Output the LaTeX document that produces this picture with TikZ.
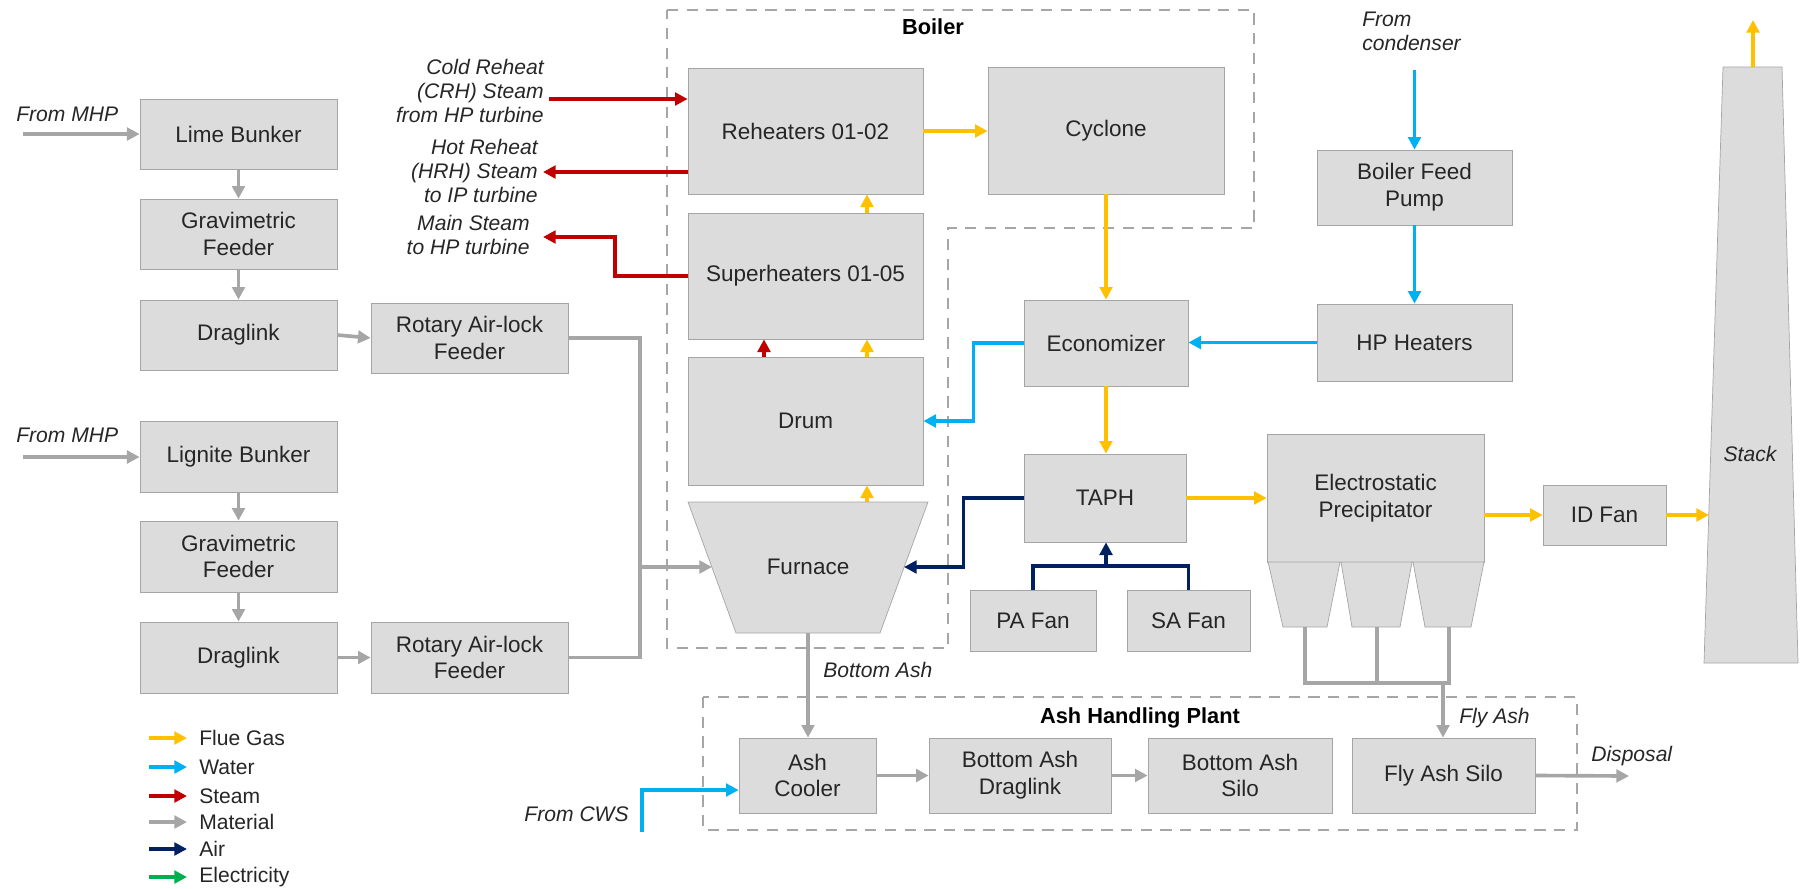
\documentclass[tikz,border=0pt]{standalone}
\usepackage{fontspec}
\setmainfont{Liberation Sans}
\usetikzlibrary{arrows.meta,calc}
\definecolor{boxfill}{RGB}{220,220,220}
\definecolor{boxline}{RGB}{165,165,165}
\definecolor{txt}{RGB}{38,38,38}
\definecolor{fluec}{RGB}{255,192,0}
\definecolor{waterc}{RGB}{0,176,240}
\definecolor{steamc}{RGB}{192,0,0}
\definecolor{matc}{RGB}{166,166,166}
\definecolor{airc}{RGB}{0,32,96}
\definecolor{elecc}{RGB}{0,176,80}
\definecolor{dashc}{RGB}{166,166,166}
\newcommand\bx[6]{\node[box, minimum width={(#4-#2)*0.25mm}, minimum height={(#5-#3)*0.25mm}] (#1) at ({(#2+#4)/2},{(#3+#5)/2}) {#6};}
\begin{document}
\begin{tikzpicture}[x=0.25mm,y=-0.25mm,
 box/.style={draw=boxline, line width=0.5pt, fill=boxfill, text=txt, align=center, inner sep=0pt, font=\fontsize{16}{19}\selectfont},
 shp/.style={draw=boxline, line width=0.5pt, fill=boxfill},
 lbl/.style={text=txt, font=\fontsize{15}{17}\selectfont\itshape, inner sep=0pt},
 lgd/.style={text=txt, font=\fontsize{15}{17}\selectfont, inner sep=0pt, anchor=west},
 ttl/.style={text=black, font=\fontsize{15.5}{18}\selectfont\bfseries, inner sep=0pt},
 flow/.style={line width=2.6pt, -{Triangle[length=9pt,width=9pt]}},
 plain/.style={line width=2.6pt},
 fg/.style={flow, draw=fluec}, wt/.style={flow, draw=waterc}, st/.style={flow, draw=steamc},
 mt/.style={flow, draw=matc}, ar/.style={flow, draw=airc}, el/.style={flow, draw=elecc},
 bound/.style={draw=dashc, line width=1.5pt, dash pattern=on 8pt off 6pt}
]
\useasboundingbox (0,0) rectangle (1800,888);

% boundaries
\draw[bound] (667,10) -- (1254,10) -- (1254,228) -- (948,228) -- (948,648) -- (667,648) -- cycle;
\draw[bound] (703,697) rectangle (1577,830);
\node[ttl] (tboiler) at (933,27) {Boiler};
\node[ttl] (tahp) at (1140,718) {Ash Handling Plant};

% boxes
\bx{lime}{140}{99}{337}{169}{Lime Bunker}
\bx{grav1}{140}{199}{337}{269}{Gravimetric\\Feeder}
\bx{drag1}{140}{300}{337}{370}{Draglink}
\bx{rot1}{371}{303}{568}{373}{Rotary Air-lock\\Feeder}
\bx{lig}{140}{421}{337}{492}{Lignite Bunker}
\bx{grav2}{140}{521}{337}{592}{Gravimetric\\Feeder}
\bx{drag2}{140}{622}{337}{693}{Draglink}
\bx{rot2}{371}{622}{568}{693}{Rotary Air-lock\\Feeder}
\bx{reh}{688}{68}{923}{194}{Reheaters 01-02}
\bx{cyc}{988}{67}{1224}{194}{Cyclone}
\bx{sup}{688}{213}{923}{339}{Superheaters 01-05}
\bx{drum}{688}{357}{923}{485}{Drum}
\bx{econ}{1024}{300}{1188}{386}{Economizer}
\bx{taph}{1024}{454}{1186}{542}{TAPH}
\bx{pa}{970}{590}{1096}{651}{PA Fan}
\bx{sa}{1127}{590}{1250}{651}{SA Fan}
\bx{bfp}{1317}{150}{1512}{225}{Boiler Feed\\Pump}
\bx{hph}{1317}{304}{1512}{381}{HP Heaters}
\bx{esp}{1267}{434}{1484}{562}{Electrostatic\\Precipitator}
\bx{idf}{1543}{485}{1666}{545}{ID Fan}
\bx{ashc}{739}{738}{876}{813}{Ash\\Cooler}
\bx{badr}{929}{738}{1111}{813}{Bottom Ash\\Draglink}
\bx{bas}{1148}{738}{1332}{813}{Bottom Ash\\Silo}
\bx{fas}{1352}{738}{1535}{813}{Fly Ash Silo}

% furnace
\draw[shp] (688,502) -- (928,502) -- (880,633) -- (736,633) -- cycle;
\node[box, draw=none, fill=none] (furnace) at (808,567) {Furnace};
\coordinate (furW) at (712,567);
\coordinate (furE) at (904,567);
\coordinate (furN) at (867,502);
\coordinate (furS) at (808,633);

% hoppers
\draw[shp] (1268,562) -- (1340,562) -- (1327,627) -- (1283,627) -- cycle;
\draw[shp] (1341,562) -- (1412,562) -- (1400,627) -- (1352,627) -- cycle;
\draw[shp] (1413,562) -- (1484,562) -- (1471,627) -- (1425,627) -- cycle;
\coordinate (h1) at (1305,627);
\coordinate (h2) at (1377,627);
\coordinate (h3) at (1449,627);
\coordinate (hj) at (1443,683);

% stack
\draw[shp] (1723,67) -- (1782,67) -- (1798,663) -- (1704,663) -- cycle;
\node[lbl] (tstack) at (1750,454) {Stack};
\coordinate (stackW) at (1709,515);
\coordinate (stackT) at (1753,67);
\coordinate (sky) at (1753,20);

% material
\coordinate (mhp1) at (23,134);
\coordinate (mhp2) at (23,457);
\draw[mt] (mhp1) -- (mhp1 -| lime.west);
\draw[mt] (mhp2) -- (mhp2 -| lig.west);
\draw[mt] (lime.south) -- (grav1.north);
\draw[mt] (grav1.south) -- (drag1.north);
\draw[mt] (drag1.east) -- (rot1.west);
\draw[mt] (lig.south) -- (grav2.north);
\draw[mt] (grav2.south) -- (drag2.north);
\draw[mt] (drag2.east) -- (rot2.west);
\coordinate (fj) at (640,567);
\draw[plain, draw=matc] (rot1.east) -| (fj);
\draw[plain, draw=matc] (rot2.east) -| (fj);
\draw[mt] (fj) -- (furW);
\draw[mt] (furS) -- (furS |- ashc.north);
\draw[mt] (ashc.east) -- (badr.west);
\draw[mt] (badr.east) -- (bas.west);
\coordinate (disp) at (1629,776);
\draw[mt] (fas.east) -- (disp);
\draw[line width=2.2pt, draw=matc] (h1) |- (hj -| h3) -- (h3);
\draw[line width=2.2pt, draw=matc] (h2) -- (h2 |- hj);
\draw[mt] (hj) -- (hj |- fas.north);

% flue gas
\coordinate (fx) at (867,0);
\draw[fg] (reh.east) -- (reh.east -| cyc.west);
\draw[fg] (sup.north -| fx) -- (reh.south -| fx);
\draw[fg] (drum.north -| fx) -- (sup.south -| fx);
\draw[fg] (furN) -- (drum.south -| fx);
\draw[fg] (cyc.south) -- (cyc.south |- econ.north);
\draw[fg] (econ.south) -- (econ.south |- taph.north);
\draw[fg] (taph.east) -- (taph.east -| esp.west);
\draw[fg] (idf.west -| esp.east) -- (idf.west);
\draw[fg] (idf.east) -- (stackW);
\draw[fg] (stackT) -- (sky);

% water
\coordinate (cond) at (1414.5,70);
\draw[wt] (cond) -- (bfp.north);
\draw[wt] (bfp.south) -- (hph.north);
\draw[wt] (hph.west) -- (hph.west -| econ.east);
\draw[wt] (econ.west) -- ++(-50,0) |- (drum.east);
\coordinate (cws) at (642,832);
\draw[wt] (cws) |- ($(ashc.west)+(0,14.5)$);

% steam
\coordinate (crh) at (549,99);
\coordinate (hrh) at (543,172);
\coordinate (msk) at (615,237);
\coordinate (ms) at (543,237);
\coordinate (rx) at (764,0);
\draw[st] (crh) -- (crh -| reh.west);
\draw[st] (hrh -| reh.west) -- (hrh);
\draw[st] (sup.west) -| (msk) -- (ms);
\draw[st] (drum.north -| rx) -- (sup.south -| rx);

% air
\coordinate (aj) at (1106,566);
\draw[ar] (taph.west) -- ++(-60,0) |- (furE);
\draw[plain, draw=airc] (pa.north) |- (aj) -| (sa.north);
\draw[ar] (aj) -- (aj |- taph.south);

% labels
\node[lbl, anchor=west] (tmhp1) at (16,114) {From MHP};
\node[lbl, anchor=west] (tmhp2) at (16,435) {From MHP};
\node[lbl, anchor=east, align=right] (tcrh) at (544,91) {Cold Reheat\\(CRH) Steam\\from HP turbine};
\node[lbl, anchor=east, align=right] (thrh) at (538,171) {Hot Reheat\\(HRH) Steam\\to IP turbine};
\node[lbl, anchor=east, align=right] (tms) at (530,235) {Main Steam\\to HP turbine};
\node[lbl, anchor=west, align=left] (tcond) at (1362,31) {From\\condenser};
\node[lbl, anchor=west] (tba) at (823,670) {Bottom Ash};
\node[lbl, anchor=east] (tcws) at (629,814) {From CWS};
\node[lbl, anchor=west] (tfa) at (1459,718) {Fly Ash};
\node[lbl, anchor=west] (tdisp) at (1591,756) {Disposal};

% legend
\coordinate (la1) at (149,738); \coordinate (lb1) at (187,738);
\coordinate (la2) at (149,767); \coordinate (lb2) at (187,767);
\coordinate (la3) at (149,796); \coordinate (lb3) at (187,796);
\coordinate (la4) at (149,822); \coordinate (lb4) at (187,822);
\coordinate (la5) at (149,849); \coordinate (lb5) at (187,849);
\coordinate (la6) at (149,877); \coordinate (lb6) at (187,877);
\draw[fg] (la1) -- (lb1); \node[lgd] (lg1) at (199,738) {Flue Gas};
\draw[wt] (la2) -- (lb2); \node[lgd] (lg2) at (199,767) {Water};
\draw[st] (la3) -- (lb3); \node[lgd] (lg3) at (199,796) {Steam};
\draw[mt] (la4) -- (lb4); \node[lgd] (lg4) at (199,822) {Material};
\draw[ar] (la5) -- (lb5); \node[lgd] (lg5) at (199,849) {Air};
\draw[el] (la6) -- (lb6); \node[lgd] (lg6) at (199,877) {Electricity};
\end{tikzpicture}
\end{document}
